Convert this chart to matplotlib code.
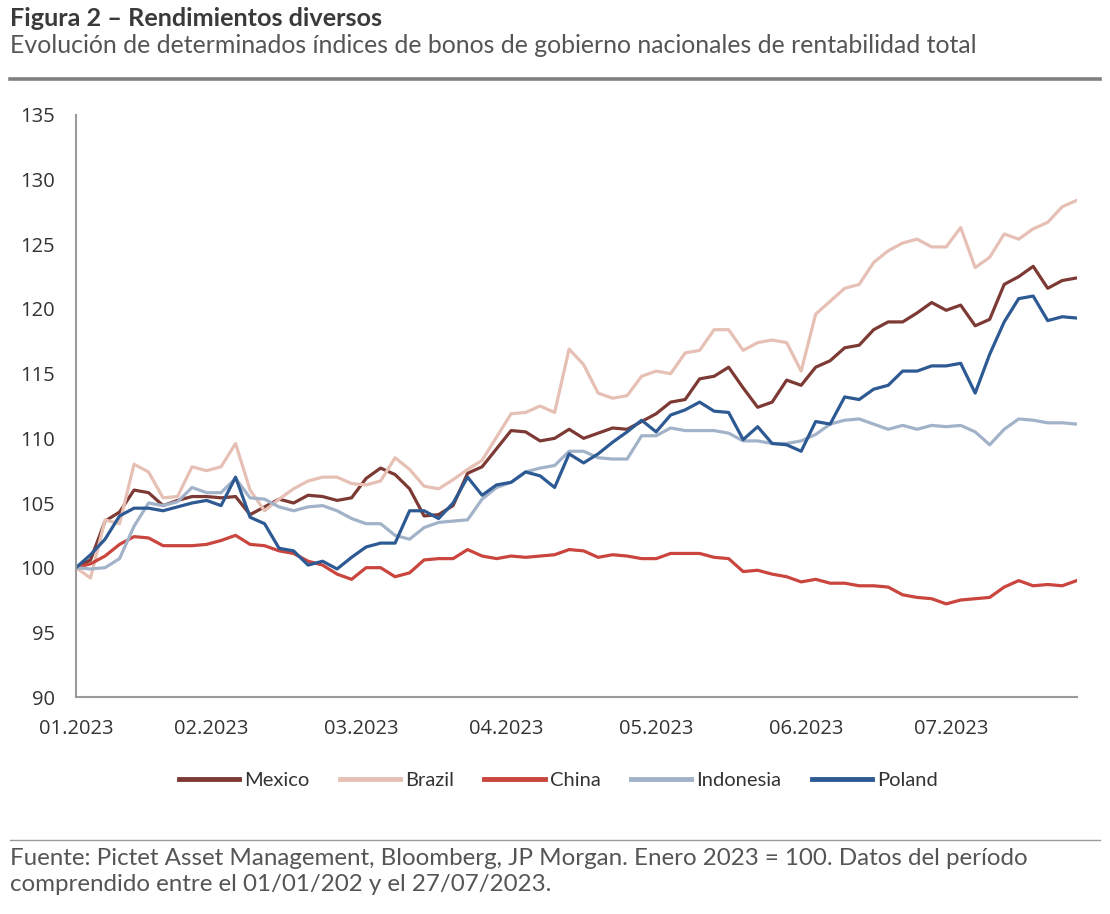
import pandas as pd
import numpy as np
import matplotlib
matplotlib.use('Agg')
import matplotlib.pyplot as plt
from matplotlib.lines import Line2D

# fechas cada 3 días entre 01/01/2023 y 27/07/2023
dates = pd.date_range('2023-01-01', periods=70, freq='3D')

mexico = [100.0, 100.6, 103.6, 104.3, 106.0, 105.8, 104.8, 105.2, 105.5, 105.5,
          105.4, 105.5, 104.1, 104.7, 105.3, 105.0, 105.6, 105.5, 105.2, 105.4,
          106.9, 107.7, 107.2, 106.1, 104.0, 104.1, 104.8, 107.3, 107.8, 109.2,
          110.6, 110.5, 109.8, 110.0, 110.7, 110.0, 110.4, 110.8, 110.7, 111.3,
          111.9, 112.8, 113.0, 114.6, 114.8, 115.5, 113.9, 112.4, 112.8, 114.5,
          114.1, 115.5, 116.0, 117.0, 117.2, 118.4, 119.0, 119.0, 119.7, 120.5,
          119.9, 120.3, 118.7, 119.2, 121.9, 122.5, 123.3, 121.6, 122.2, 122.4]

brazil = [100.0, 99.2, 103.7, 103.4, 108.0, 107.4, 105.4, 105.5, 107.8, 107.5,
          107.8, 109.6, 106.0, 104.4, 105.3, 106.1, 106.7, 107.0, 107.0, 106.5,
          106.4, 106.7, 108.5, 107.6, 106.3, 106.1, 106.8, 107.6, 108.3, 110.1,
          111.9, 112.0, 112.5, 112.0, 116.9, 115.7, 113.5, 113.1, 113.3, 114.8,
          115.2, 115.0, 116.6, 116.8, 118.4, 118.4, 116.8, 117.4, 117.6, 117.4,
          115.2, 119.6, 120.6, 121.6, 121.9, 123.6, 124.5, 125.1, 125.4, 124.8,
          124.8, 126.3, 123.2, 124.0, 125.8, 125.4, 126.2, 126.7, 127.9, 128.4]

china = [100.0, 100.3, 100.9, 101.8, 102.4, 102.3, 101.7, 101.7, 101.7, 101.8,
         102.1, 102.5, 101.8, 101.7, 101.3, 101.1, 100.5, 100.2, 99.5, 99.1,
         100.0, 100.0, 99.3, 99.6, 100.6, 100.7, 100.7, 101.4, 100.9, 100.7,
         100.9, 100.8, 100.9, 101.0, 101.4, 101.3, 100.8, 101.0, 100.9, 100.7,
         100.7, 101.1, 101.1, 101.1, 100.8, 100.7, 99.7, 99.8, 99.5, 99.3,
         98.9, 99.1, 98.8, 98.8, 98.6, 98.6, 98.5, 97.9, 97.7, 97.6,
         97.2, 97.5, 97.6, 97.7, 98.5, 99.0, 98.6, 98.7, 98.6, 99.0]

indonesia = [100.0, 99.9, 100.0, 100.7, 103.2, 105.0, 104.8, 105.1, 106.2, 105.8,
             105.8, 106.9, 105.4, 105.3, 104.7, 104.4, 104.7, 104.8, 104.4, 103.8,
             103.4, 103.4, 102.5, 102.2, 103.1, 103.5, 103.6, 103.7, 105.3, 106.2,
             106.6, 107.4, 107.7, 107.9, 109.0, 109.0, 108.5, 108.4, 108.4, 110.2,
             110.2, 110.8, 110.6, 110.6, 110.6, 110.4, 109.8, 109.8, 109.6, 109.6,
             109.8, 110.3, 111.1, 111.4, 111.5, 111.1, 110.7, 111.0, 110.7, 111.0,
             110.9, 111.0, 110.5, 109.5, 110.7, 111.5, 111.4, 111.2, 111.2, 111.1]

poland = [100.0, 101.0, 102.2, 104.0, 104.6, 104.6, 104.4, 104.7, 105.0, 105.2,
          104.8, 107.0, 103.9, 103.4, 101.5, 101.3, 100.2, 100.5, 99.9, 100.8,
          101.6, 101.9, 101.9, 104.4, 104.4, 103.8, 105.0, 107.0, 105.6, 106.4,
          106.6, 107.4, 107.1, 106.2, 108.8, 108.1, 108.8, 109.7, 110.5, 111.4,
          110.5, 111.8, 112.2, 112.8, 112.1, 112.0, 109.9, 110.9, 109.6, 109.5,
          109.0, 111.3, 111.1, 113.2, 113.0, 113.8, 114.1, 115.2, 115.2, 115.6,
          115.6, 115.8, 113.5, 116.5, 119.0, 120.8, 121.0, 119.1, 119.4, 119.3]

series_names = ['Mexico', 'Brazil', 'China', 'Indonesia', 'Poland']
series_colors = ['#7d3a34', '#e6c0b4', '#c9453d', '#a2b3c9', '#2e5a94']
tick_dates = pd.to_datetime(['2023-01-01', '2023-01-29', '2023-03-01', '2023-03-31',
                             '2023-05-01', '2023-06-01', '2023-07-01'])
tick_labels = ['01.2023', '02.2023', '03.2023', '04.2023', '05.2023', '06.2023', '07.2023']

plt.rcParams['font.family'] = ['Open Sans', 'DejaVu Sans']
txt_font = ['Lato', 'DejaVu Sans']

fig = plt.figure(figsize=(11.1, 9.14), dpi=100)
ax = fig.add_axes([0.0685, 0.2374, 0.9015, 0.6368])

all_series = [mexico, brazil, china, indonesia, poland]
for name, values, color in zip(series_names, all_series, series_colors):
    ax.plot(dates, values, color=color, linewidth=2.3, label=name)

ax.set_ylim(90, 135)
ax.set_yticks(range(90, 136, 5))
ax.set_xlim(dates[0], dates[-1])
ax.set_xticks(tick_dates)
ax.set_xticklabels(tick_labels)
ax.tick_params(axis='both', length=0, labelsize=14.5, colors='#333333')
ax.tick_params(axis='x', pad=16)
ax.tick_params(axis='y', pad=15)

for side in ['top', 'right']:
    ax.spines[side].set_visible(False)
for side in ['left', 'bottom']:
    ax.spines[side].set_color('#9a9a9a')
    ax.spines[side].set_linewidth(1.5)

# leyenda debajo del gráfico
handles = [Line2D([0], [0], color=c, linewidth=3.5) for c in series_colors]
fig.legend(handles, series_names, loc='center', bbox_to_anchor=(0.503, 0.146),
           ncol=5, frameon=False, handlelength=3.0, handletextpad=0.25,
           columnspacing=1.5, labelcolor='#333333',
           prop={'family': txt_font, 'size': 14.5})

# títulos
fig.text(0.009, 0.980, 'Figura 2 – Rendimientos diversos', fontsize=18.2,
         fontweight='bold', color='#3a3a3a', va='center', family=txt_font)
fig.text(0.009, 0.950,
         'Evolución de determinados índices de bonos de gobierno nacionales de rentabilidad total',
         fontsize=17.9, color='#555555', va='center', family=txt_font)
fig.add_artist(Line2D([0.009, 0.991], [0.914, 0.914], color='#808080', linewidth=2.6))
fig.add_artist(Line2D([0.009, 0.991], [0.081, 0.081], color='#9a9a9a', linewidth=1.0))

fig.text(0.009, 0.061,
         'Fuente: Pictet Asset Management, Bloomberg, JP Morgan. Enero 2023 = 100. Datos del período',
         fontsize=17.4, color='#555555', va='center', family=txt_font)
fig.text(0.009, 0.032, 'comprendido entre el 01/01/202 y el 27/07/2023.',
         fontsize=17.4, color='#555555', va='center', family=txt_font)

fig.savefig('out.png', dpi=100)
